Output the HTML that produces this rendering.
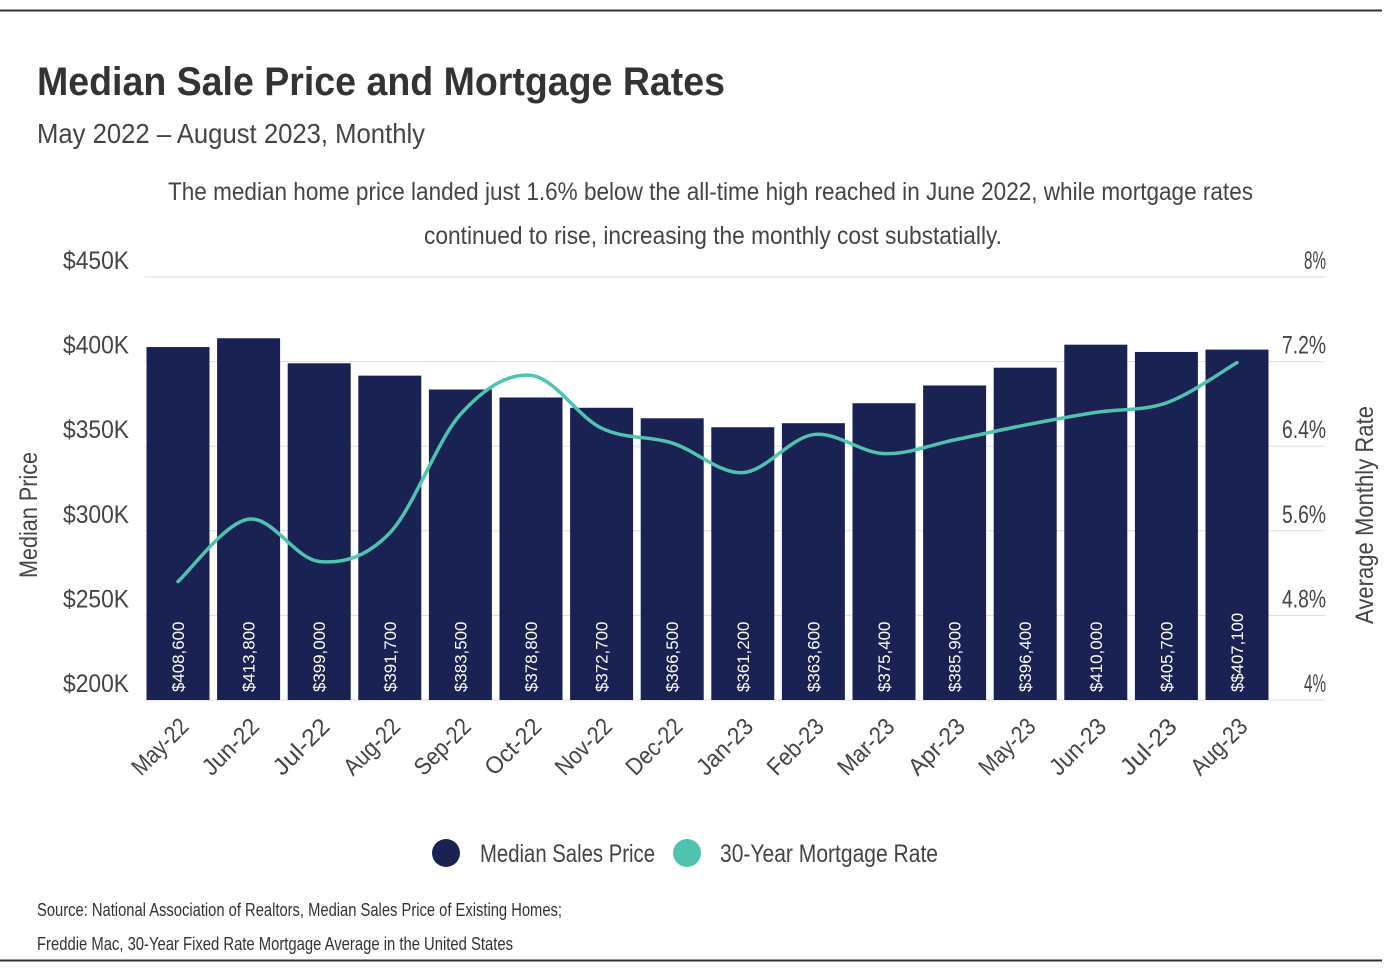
<!DOCTYPE html>
<html><head><meta charset="utf-8">
<style>
html,body{margin:0;padding:0;background:#fff;}
svg{display:block;font-family:"Liberation Sans",sans-serif;}
</style></head>
<body>
<svg id="chart" width="1392" height="976" viewBox="0 0 1392 976" xmlns="http://www.w3.org/2000/svg">
<line x1="0" y1="10.5" x2="1382" y2="10.5" stroke="#333" stroke-width="2"/>
<line x1="0" y1="960.5" x2="1382" y2="960.5" stroke="#333" stroke-width="2"/>
<text x="37" y="95" font-size="40" font-weight="bold" fill="#333" textLength="688" lengthAdjust="spacingAndGlyphs">Median Sale Price and Mortgage Rates</text>
<text x="37" y="143" font-size="28" fill="#444" textLength="388" lengthAdjust="spacingAndGlyphs">May 2022 – August 2023, Monthly</text>
<text x="168" y="200" font-size="25" fill="#444" textLength="1085" lengthAdjust="spacingAndGlyphs">The median home price landed just 1.6% below the all-time high reached in June 2022, while mortgage rates</text>
<text x="424" y="244" font-size="25" fill="#444" textLength="578" lengthAdjust="spacingAndGlyphs">continued to rise, increasing the monthly cost substatially.</text>
<g id="grid"></g>
<g id="bars"></g>
<g id="line"></g>
<g id="axes"></g>
<text transform="translate(37,515) rotate(-90)" text-anchor="middle" font-size="25" fill="#444" textLength="126" lengthAdjust="spacingAndGlyphs">Median Price</text>
<text transform="translate(1373,515) rotate(-90)" text-anchor="middle" font-size="25" fill="#444" textLength="218" lengthAdjust="spacingAndGlyphs">Average Monthly Rate</text>
<g>
<circle cx="446" cy="853" r="14" fill="#1a2254"/>
<text x="480" y="862" font-size="25" fill="#444" textLength="175" lengthAdjust="spacingAndGlyphs">Median Sales Price</text>
<circle cx="687" cy="853" r="14" fill="#4fc3b0"/>
<text x="720" y="862" font-size="25" fill="#444" textLength="218" lengthAdjust="spacingAndGlyphs">30-Year Mortgage Rate</text>
</g>
<text x="37" y="916" font-size="18" fill="#333" textLength="525" lengthAdjust="spacingAndGlyphs">Source: National Association of Realtors, Median Sales Price of Existing Homes;</text>
<text x="37" y="950" font-size="18" fill="#333" textLength="476" lengthAdjust="spacingAndGlyphs">Freddie Mac, 30-Year Fixed Rate Mortgage Average in the United States</text>
</svg>
<script>
const categories = ["May-22","Jun-22","Jul-22","Aug-22","Sep-22","Oct-22","Nov-22","Dec-22","Jan-23","Feb-23","Mar-23","Apr-23","May-23","Jun-23","Jul-23","Aug-23"];
const prices = [408600,413800,399000,391700,383500,378800,372700,366500,361200,363600,375400,385900,396400,410000,405700,407100];
const priceLabels = ["$408,600","$413,800","$399,000","$391,700","$383,500","$378,800","$372,700","$366,500","$361,200","$363,600","$375,400","$385,900","$396,400","$410,000","$405,700","$$407,100"];
const rates = [5.12,5.71,5.31,5.58,6.70,7.07,6.57,6.43,6.15,6.51,6.33,6.46,6.60,6.72,6.81,7.19];
const leftTicks = [200000,250000,300000,350000,400000,450000];
const leftTickLabels = ["$200K","$250K","$300K","$350K","$400K","$450K"];
const rightTicks = [4,4.8,5.6,6.4,7.2,8];
const rightTickLabels = ["4%","4.8%","5.6%","6.4%","7.2%","8%"];

const NS = "http://www.w3.org/2000/svg";
const plotTop = 277, plotBottom = 700, plotLeft = 142.7, band = 70.6;
function yL(v){ return plotBottom - (v - 200000) / 250000 * (plotBottom - plotTop); }
function yR(v){ return plotBottom - (v - 4) / 4 * (plotBottom - plotTop); }
function x(i){ return plotLeft + band * (i + 0.5); }
function mk(tag, attrs, parent){
  const e = document.createElementNS(NS, tag);
  for (const k in attrs) e.setAttribute(k, attrs[k]);
  parent.appendChild(e); return e;
}
const grid = document.getElementById('grid');
const axes = document.getElementById('axes');
leftTicks.forEach((t, i) => {
  const g = mk('line', {x1:145, x2:1325, y1:yL(t), y2:yL(t), stroke:'#ddd', 'stroke-width':1}, grid);
  
  
  const tl = mk('text', {x:129, y:yL(t)-8, 'text-anchor':'end', 'font-size':25, fill:'#444', textLength:66, lengthAdjust:'spacingAndGlyphs'}, axes);
  tl.textContent = leftTickLabels[i];
  
  
});
rightTicks.forEach((t, i) => {
  const tl = mk('text', {x:1326, y:yR(t)-8, 'text-anchor':'end', 'font-size':25, fill:'#444', textLength: rightTickLabels[i].length * 11, lengthAdjust:'spacingAndGlyphs'}, axes);
  tl.textContent = rightTickLabels[i];
  
  
});
const bars = document.getElementById('bars');
const bw = 63;
prices.forEach((p, i) => {
  const r = mk('rect', {x:x(i)-bw/2, y:yL(p), width:bw, height:plotBottom-yL(p), fill:'#1a2254'}, bars);
  
  
  const vl = mk('text', {transform:'translate(' + (x(i)+6) + ',692) rotate(-90)', 'font-size':17, fill:'#fff', textLength: priceLabels[i].length * 8.8, lengthAdjust:'spacingAndGlyphs'}, bars);
  vl.textContent = priceLabels[i];
  
  
  const xl = mk('text', {transform:'translate(' + (x(i)+12) + ',728) rotate(-45)', 'text-anchor':'end', 'font-size':24, fill:'#444', textLength: categories[i].length * 11.5, lengthAdjust:'spacingAndGlyphs'}, axes);
  xl.textContent = categories[i];
  
  
});
const pts = rates.map((r, i) => [x(i), yR(r)]);
let d = 'M' + pts[0][0] + ',' + pts[0][1];
for (let i = 0; i < pts.length - 1; i++) {
  const p0 = pts[Math.max(0, i-1)], p1 = pts[i], p2 = pts[i+1], p3 = pts[Math.min(pts.length-1, i+2)];
  const c1 = [p1[0] + (p2[0]-p0[0])/6, p1[1] + (p2[1]-p0[1])/6];
  const c2 = [p2[0] - (p3[0]-p1[0])/6, p2[1] - (p3[1]-p1[1])/6];
  d += ' C' + c1[0] + ',' + c1[1] + ' ' + c2[0] + ',' + c2[1] + ' ' + p2[0] + ',' + p2[1];
}
const ln = mk('path', {d:d, fill:'none', stroke:'#4fc3b0', 'stroke-width':3.5, 'stroke-linecap':'round'}, document.getElementById('line'));


</script>
</body></html>
